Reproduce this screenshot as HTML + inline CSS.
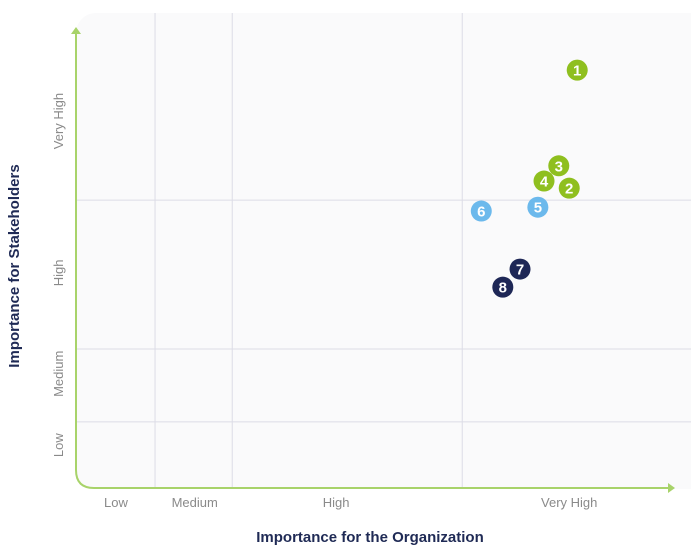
<!DOCTYPE html>
<html><head><meta charset="utf-8"><style>
body{margin:0;background:#fff;font-family:"Liberation Sans",sans-serif}
svg{display:block}
</style></head><body>
<svg id="chart" width="691" height="551">
<rect x="76" y="13" width="640" height="476" rx="20" fill="#fafafb"/>
<g id="grid"></g>
<path d="M76,32 L76,470 Q76,488 94,488 L670,488" fill="none" stroke="#a8d36a" stroke-width="2"/>
<path d="M71,34 L76,27 L81,34 Z" fill="#a8d36a"/>
<path d="M668,483 L675,488 L668,493 Z" fill="#a8d36a"/>
<g id="labels" font-size="13" fill="#8a8a8a"></g>
<text x="19" y="266" transform="rotate(-90 19 266)" text-anchor="middle" font-size="15" font-weight="bold" fill="#1f2a55">Importance for Stakeholders</text>
<text x="370" y="542" text-anchor="middle" font-size="15" font-weight="bold" fill="#1f2a55">Importance for the Organization</text>
<g id="points"></g>
</svg>
<script>
const xGrid=[12.85,25.4,62.8];
const yGrid=[60.7,29.4,14.1];
const xTickLabels=["Low","Medium","High","Very High"];
const xTickPos=[6.5,19.3,42.3,80.2];
const yTickLabels=["Very High","High","Medium","Low"];
const yTickPos=[77.3,45.4,24.2,9.2];
const ids=["1","2","3","4","5","6","7","8"];
const xs=[81.5,80.2,78.5,76.1,75.1,65.9,72.2,69.4];
const ys=[88.0,63.2,67.9,64.7,59.2,58.4,46.2,42.4];
const groups=["g","g","g","g","b","b","n","n"];
const colors={g:"#8fbf1f",b:"#6cb9ec",n:"#1e2756"};
const X=v=>76+v*6.15, Y=v=>489-v*4.76;
const ns="http://www.w3.org/2000/svg";
const mk=(t,a,p)=>{const e=document.createElementNS(ns,t);for(const k in a)e.setAttribute(k,a[k]);p.appendChild(e);return e;};
const grid=document.getElementById('grid');
xGrid.forEach(v=>{const l=mk('line',{x1:X(v),x2:X(v),y1:13,y2:488,stroke:"#dcdce6","stroke-width":1},grid);

});
yGrid.forEach(v=>{const l=mk('line',{x1:76,x2:691,y1:Y(v),y2:Y(v),stroke:"#dcdce6","stroke-width":1},grid);

});
const lab=document.getElementById('labels');
xTickLabels.forEach((s,i)=>{const t=mk('text',{x:X(xTickPos[i]),y:507,"text-anchor":"middle"},lab);t.textContent=s;

});
yTickLabels.forEach((s,i)=>{const y=Y(yTickPos[i]);const t=mk('text',{x:63,y:y,"text-anchor":"middle",transform:`rotate(-90 63 ${y})`},lab);t.textContent=s;

});
const pts=document.getElementById('points');
ids.forEach((id,i)=>{const g=mk('g',{},pts);


mk('circle',{cx:X(xs[i]),cy:Y(ys[i]),r:10.5,fill:colors[groups[i]]},g);
const t=mk('text',{x:X(xs[i]),y:Y(ys[i])+5.5,"text-anchor":"middle","font-size":15,"font-weight":"bold",fill:"#fff"},g);t.textContent=id;});
</script>
</body></html>
